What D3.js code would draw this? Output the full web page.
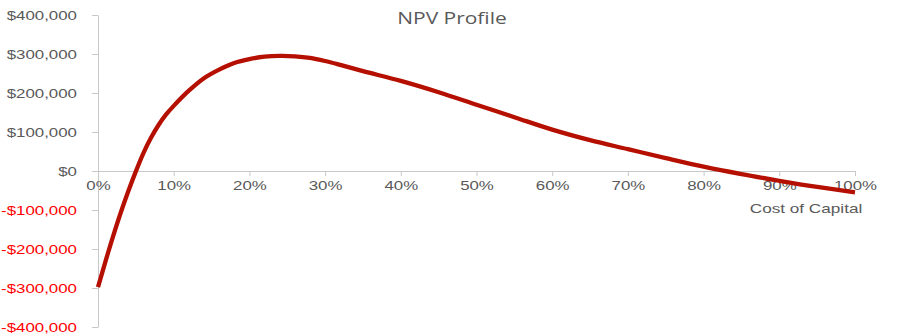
<!DOCTYPE html>
<html>
<head>
    <meta charset="utf-8">
    <style>
        body { margin: 0; background: #fff; }
        svg { display: block; }
        .axis .domain, .axis .tick line { stroke: #c8c8c8; }
        .axis text { font-family: "Liberation Sans", Arial, sans-serif; font-size: 12.5px; fill: #595959; }
    </style>
</head>
<body>
    <svg width="908" height="336"></svg>

<script src="https://d3js.org/d3.v7.min.js"></script>
<script>
    // cost of capital (%) and NPV ($)
    const rates = [0, 1, 2, 3, 4, 5, 6, 7, 8, 9, 10, 12, 14, 16, 18, 20, 22, 24, 26, 28,
        30, 32, 35, 40, 45, 50, 55, 60, 65, 70, 75, 80, 85, 90, 95, 100];
    const npv = [-298000, -231000, -167000, -107000, -52000, -1000, 46000, 85000, 118000, 145000,
        167000, 206000, 238000, 260000, 277000, 287000, 293000, 295000, 294000, 290000,
        282000, 272000, 256000, 231000, 202000, 170000, 138000, 106000, 79000, 56000,
        33000, 11000, -8000, -25000, -41000, -55000];

    const yTicks = [-400000, -300000, -200000, -100000, 0, 100000, 200000, 300000, 400000];
    const xTicks = [0, 10, 20, 30, 40, 50, 60, 70, 80, 90, 100];

    const stretch = 1.35; // text in the reference is stretched sideways

    let svg = d3.select("svg");

    let x = d3.scaleLinear().domain([0, 100]).range([98, 855]);
    let y = d3.scaleLinear().domain([-400000, 400000]).range([327, 15]);

    let money = v => (v < 0 ? "-$" : "$") + d3.format(",")(Math.abs(v));

    // y axis
    let yAxis = svg.append("g")
        .attr("class", "axis y")
        .attr("transform", `translate(${x(0)},0)`)
        .call(d3.axisLeft(y).tickValues(yTicks).tickFormat(money).tickSize(6).tickSizeOuter(0));

    yAxis.selectAll("text")
        .attr("x", 0)
        .attr("dy", "0.35em")
        .attr("transform", `translate(-21,0) scale(${stretch},1)`)
        .style("fill", d => d < 0 ? "#ff0000" : "#595959");

    // x axis sits on the zero line
    let xAxis = svg.append("g")
        .attr("class", "axis x")
        .attr("transform", `translate(0,${y(0)})`)
        .call(d3.axisBottom(x).tickValues(xTicks).tickFormat(d => d + "%").tickSize(5).tickSizeOuter(0));

    xAxis.selectAll("text")
        .attr("y", 0)
        .attr("dy", 0)
        .attr("transform", `translate(0,18.5) scale(${stretch},1)`);

    // axis title
    svg.append("text")
        .attr("transform", `translate(806,213) scale(1.32,1)`)
        .attr("text-anchor", "middle")
        .style("font-family", "'Liberation Sans', Arial, sans-serif")
        .style("font-size", "13px")
        .style("fill", "#595959")
        .text("Cost of Capital");

    // chart title
    svg.append("text")
        .attr("transform", `translate(452,23.5) scale(1.31,1)`)
        .attr("text-anchor", "middle")
        .style("font-family", "'Open Sans', sans-serif")
        .style("font-size", "16px")
        .style("fill", "#595959")
        .text("NPV Profile");

    let data = rates.map((r, i) => ({ rate: r, value: npv[i] }));

    let line = d3.line()
        .x(d => x(d.rate))
        .y(d => y(d.value))
        .curve(d3.curveCatmullRom.alpha(0.5));

    svg.append("path")
        .datum(data)
        .attr("d", line)
        .style("fill", "none")
        .style("stroke", "#b50f00")
        .style("stroke-width", "4.3px")
        .style("stroke-linejoin", "round");
</script>
</body>
</html>
